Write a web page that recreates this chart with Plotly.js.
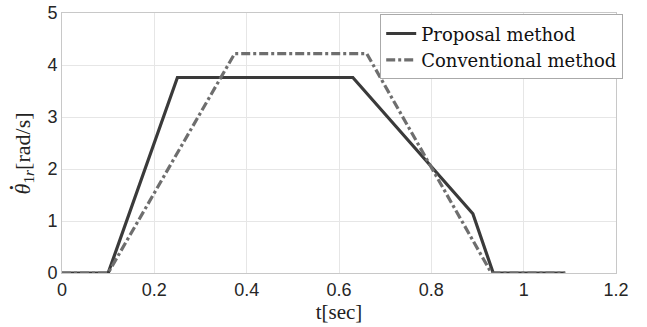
<!DOCTYPE html>
<html><head><meta charset="utf-8">
<script src="https://cdn.plot.ly/plotly-3.0.1.min.js"></script>
<style>html,body{margin:0;padding:0;background:#fff}#chart{width:647px;height:327px}</style>
</head><body><div id="chart"></div>
<script>
const proposalT = [0, 0.1, 0.25, 0.63, 0.89, 0.934, 1.09];
const proposalV = [0, 0, 3.76, 3.76, 1.14, 0, 0];
const conventionalT = [0, 0.1, 0.374, 0.66, 0.93, 1.09];
const conventionalV = [0, 0, 4.22, 4.22, 0, 0];
const xTicks = [0, 0.2, 0.4, 0.6, 0.8, 1, 1.2];
const xTickText = ['0', '0.2', '0.4', '0.6', '0.8', '1', '1.2'];
const yTicks = [0, 1, 2, 3, 4, 5];

const serif = 'DejaVu Serif, Liberation Serif, serif';
const tserif = 'Liberation Serif, serif';
const sans = 'Liberation Sans, Arial, sans-serif';

const traces = [
  {x: proposalT, y: proposalV, mode: 'lines', name: 'Proposal method',
   line: {color: '#3a3a3a', width: 3.2}},
  {x: conventionalT, y: conventionalV, mode: 'lines', name: 'Conventional method',
   line: {color: '#6e6e6e', width: 3.2, dash: '9px,3px,3px,3px'}}
];
const layout = {
  width: 647, height: 327,
  margin: {l: 62, r: 31, t: 13, b: 54},
  paper_bgcolor: '#fff', plot_bgcolor: '#fff',
  showlegend: true,
  legend: {x: 1.013, xanchor: 'right', y: 0.995, yanchor: 'top',
    bgcolor: '#fff', bordercolor: '#aaaaaa', borderwidth: 1,
    font: {family: serif, size: 18, color: '#111'},
    tracegroupgap: 0, itemwidth: 30},
  xaxis: {range: [0, 1.2], tickvals: xTicks, ticktext: xTickText,
    showgrid: true, gridcolor: '#e6e6e6', zeroline: false,
    showline: true, linecolor: '#c8c8c8', mirror: true, ticks: '',
    tickfont: {family: sans, size: 18, color: '#262626'},
    title: {text: 't[sec]', font: {family: tserif, size: 21, color: '#222'}, standoff: 4}},
  yaxis: {range: [0, 5], tickvals: yTicks,
    showgrid: true, gridcolor: '#e6e6e6', zeroline: false,
    showline: true, linecolor: '#c8c8c8', mirror: true, ticks: '',
    tickfont: {family: sans, size: 18, color: '#262626'}},
  annotations: [{
    text: '<i>θ</i><sub>1<i>r</i></sub>[rad/s]',
    xref: 'paper', yref: 'paper', x: 0, y: 0.46, xanchor: 'center', yanchor: 'middle',
    xshift: -38, textangle: -90, showarrow: false,
    font: {family: tserif, size: 22, color: '#222'}
  }]
};
Plotly.newPlot('chart', traces, layout, {displayModeBar: false, staticPlot: true}).then(function () {
  const t = document.querySelector('.annotation-text');
  if (!t) return;
  const ext = t.getExtentOfChar(0);
  const base = t.getStartPositionOfChar(0);
  const dot = document.createElementNS('http://www.w3.org/2000/svg', 'text');
  dot.textContent = '˙';
  dot.setAttribute('x', ext.x + ext.width * 0.62);
  dot.setAttribute('y', base.y - 22 * 0.22);
  dot.setAttribute('text-anchor', 'middle');
  dot.setAttribute('style', 'font-family: Liberation Serif, serif; font-size: 22px; fill: #222; font-weight: bold;');
  t.parentNode.appendChild(dot);
});
</script></body></html>
